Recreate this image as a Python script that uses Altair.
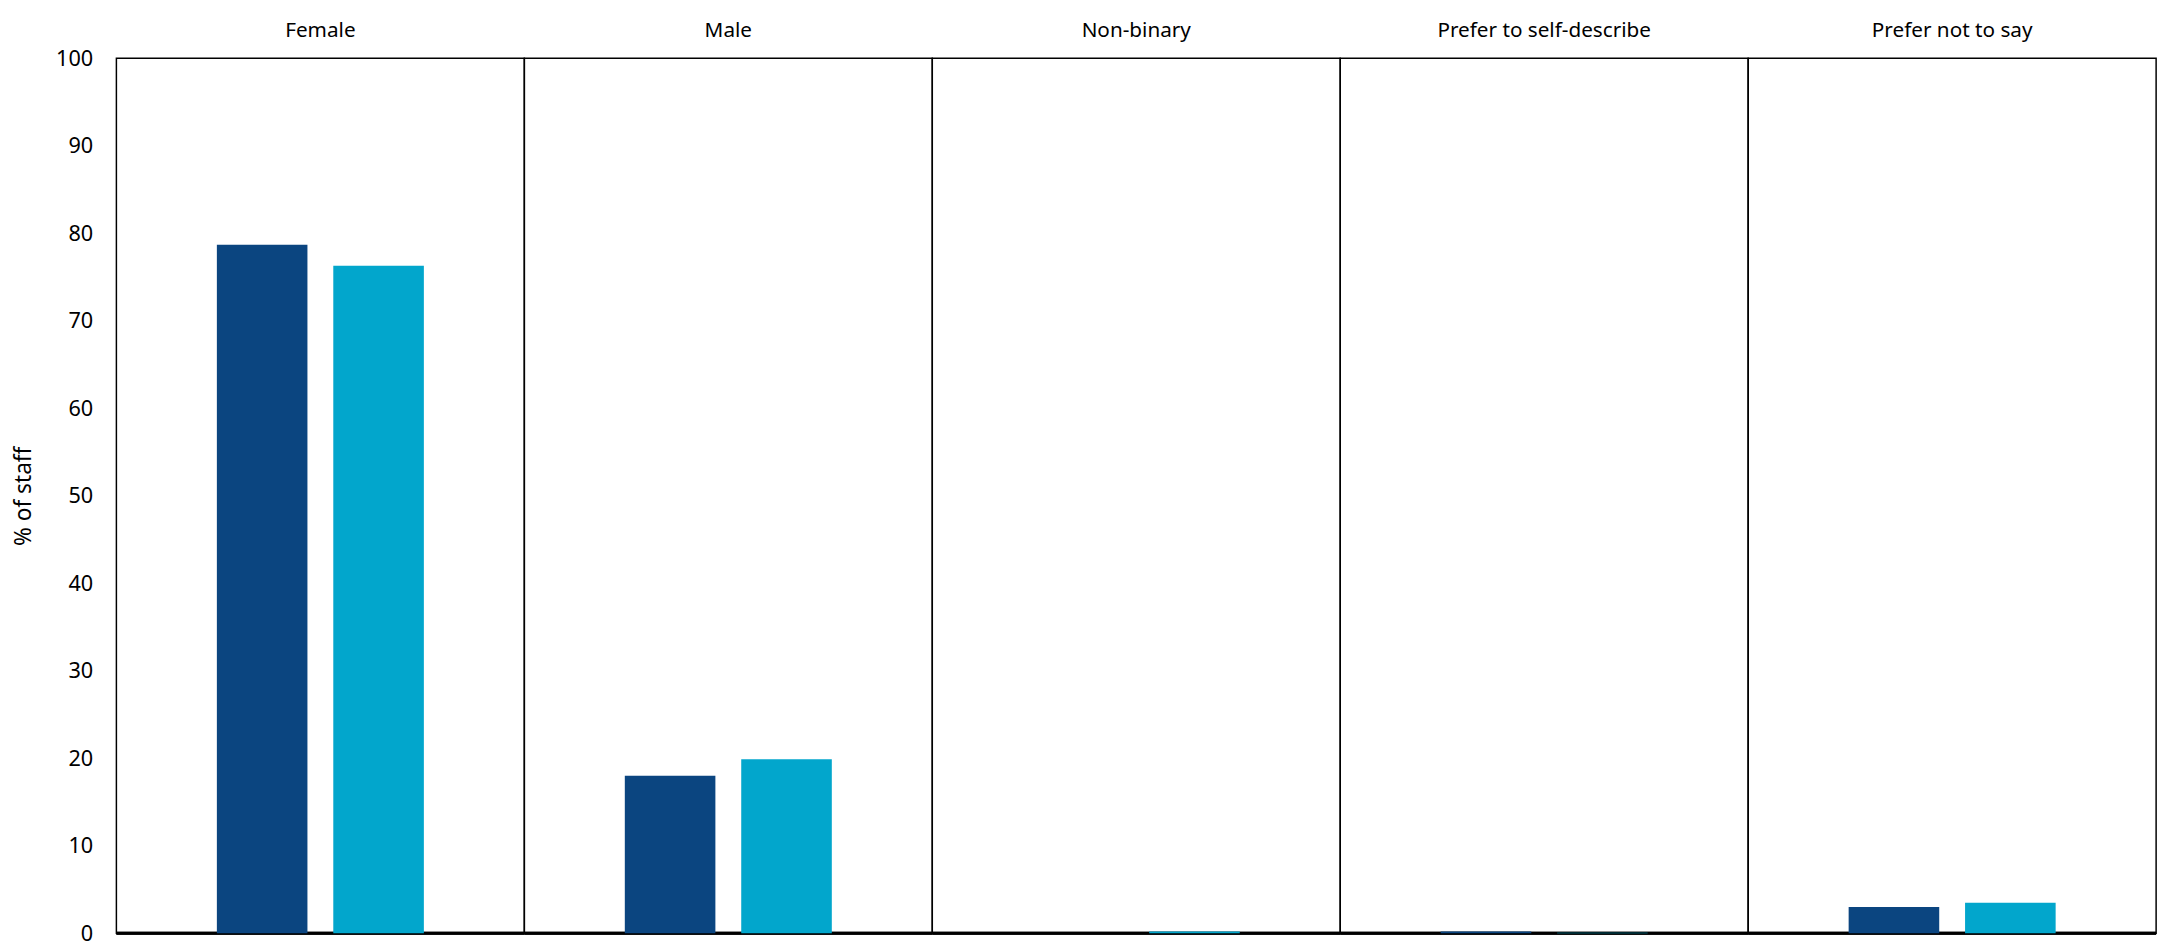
import altair as alt
import pandas as pd

categories = ["Female", "Male", "Non-binary", "Prefer to self-describe", "Prefer not to say"]
series = ["Series A", "Series B"]
values_a = [78.7, 18.0, 0.0, 0.2, 3.0]
values_b = [76.3, 19.9, 0.2, 0.05, 3.5]
colors = ["#0B4580", "#02A6CC"]

rows = []
for c, a, b in zip(categories, values_a, values_b):
    rows.append({"category": c, "series": series[0], "value": a})
    rows.append({"category": c, "series": series[1], "value": b})
df = pd.DataFrame(rows)

FONT = "Noto Sans"

bars = alt.Chart().mark_bar().encode(
    x=alt.X("series:N", sort=series, axis=None,
            scale=alt.Scale(paddingInner=0.222, paddingOuter=0.863)),
    y=alt.Y("value:Q", title="% of staff",
            scale=alt.Scale(domain=[0, 100], nice=False),
            axis=alt.Axis(values=list(range(0, 101, 10)), ticks=False, domain=False,
                          gridColor="#d9d9d9", gridWidth=1.5,
                          labelFontSize=22, labelFont=FONT, labelColor="#000",
                          labelPadding=24, titleFontSize=23, titleFont=FONT,
                          titleFontWeight="normal", titleColor="#000", titlePadding=20)),
    color=alt.Color("series:N", sort=series,
                    scale=alt.Scale(domain=series, range=colors), legend=None),
)

baseline = alt.Chart().mark_rule(color="#000", strokeWidth=3).encode(
    y=alt.datum(0)
)

layered = alt.layer(baseline, bars, data=df).properties(width=414, height=888)

chart = layered.facet(
    column=alt.Column("category:N", sort=categories,
                      header=alt.Header(title=None, labelFontSize=21, labelFont=FONT,
                                        labelColor="#000", labelPadding=18)),
    spacing=0,
    bounds="flush",
).configure(background="white").configure_view(
    stroke="#000", strokeWidth=1.5
)

chart.save("out.html", embed_options={"renderer": "svg", "actions": False})
